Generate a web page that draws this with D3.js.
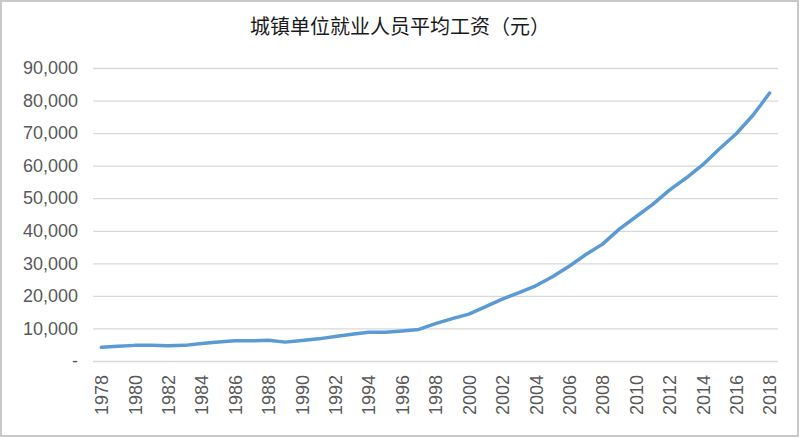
<!DOCTYPE html>
<html>
<head>
<meta charset="utf-8">
<script src="https://cdn.jsdelivr.net/npm/d3@7/dist/d3.min.js"></script>
<style>
  html, body { margin: 0; padding: 0; background: #fff; }
  svg { display: block; }
</style>
</head>
<body>
<svg id="chart" width="800" height="438"></svg>
<script>
const title = "城镇单位就业人员平均工资（元）";
const years = [1978,1979,1980,1981,1982,1983,1984,1985,1986,1987,1988,1989,1990,1991,1992,1993,1994,1995,1996,1997,1998,1999,2000,2001,2002,2003,2004,2005,2006,2007,2008,2009,2010,2011,2012,2013,2014,2015,2016,2017,2018];
const wages = [4200,4500,4800,4800,4700,4800,5400,5800,6200,6200,6400,5800,6300,6800,7500,8200,8800,8800,9200,9700,11500,13000,14400,16700,19000,21000,23100,25900,29100,32700,35900,40500,44300,48100,52500,56200,60300,65200,69800,75500,82300];
const yTicks = [0,10000,20000,30000,40000,50000,60000,70000,80000,90000];
const xTickYears = years.filter(y => (y - 1978) % 2 === 0);

(function () {
const svg = d3.select("#chart");
const W = 800, H = 438;

// outer border
svg.append("rect").attr("x", 1).attr("y", 1).attr("width", W - 3).attr("height", H - 3)
  .attr("fill", "#fff").attr("stroke", "#c8c8c8").attr("stroke-width", 2);

const pLeft = 93, pRight = 778, pTop = 68, pBottom = 361;

const x = d3.scalePoint().domain(years).range([pLeft, pRight]).padding(0.5);
const y = d3.scaleLinear().domain([0, 90000]).range([pBottom, pTop]);

// title
svg.append("text").attr("x", 400).attr("y", 34).attr("text-anchor", "middle")
  .attr("font-family", "'Noto Sans CJK SC', sans-serif").attr("font-size", 20)
  .attr("fill", "#1a1a1a").text(title);

// gridlines + y axis
const yAxis = d3.axisLeft(y).tickValues(yTicks)
  .tickSize(-(pRight - pLeft)).tickPadding(15)
  .tickFormat(d => d === 0 ? "-" : d3.format(",")(d));
const gy = svg.append("g").attr("transform", `translate(${pLeft},0)`).call(yAxis);
gy.select(".domain").remove();
gy.selectAll(".tick line").attr("stroke", "#d9d9d9").attr("stroke-width", 1.3);
gy.selectAll(".tick text").attr("font-family", "'Liberation Sans', Arial, sans-serif")
  .attr("font-size", 18).attr("fill", "#595959");

// x axis
const xAxis = d3.axisBottom(x).tickValues(xTickYears).tickSize(0).tickPadding(0);
const gx = svg.append("g").attr("transform", `translate(0,${pBottom})`).call(xAxis);
gx.select(".domain").remove();
gx.selectAll(".tick text")
  .attr("font-family", "'Liberation Sans', Arial, sans-serif")
  .attr("font-size", 18).attr("fill", "#595959")
  .attr("transform", "rotate(-90)")
  .attr("text-anchor", "end")
  .attr("x", -14).attr("y", 0).attr("dy", "0.35em");

// line
const line = d3.line().x((d, i) => x(years[i])).y(d => y(d)).curve(d3.curveLinear);
svg.append("path").datum(wages).attr("d", line)
  .attr("fill", "none").attr("stroke", "#5b9bd5").attr("stroke-width", 3.5)
  .attr("stroke-linejoin", "round").attr("stroke-linecap", "round");
})();
</script>
</body>
</html>
